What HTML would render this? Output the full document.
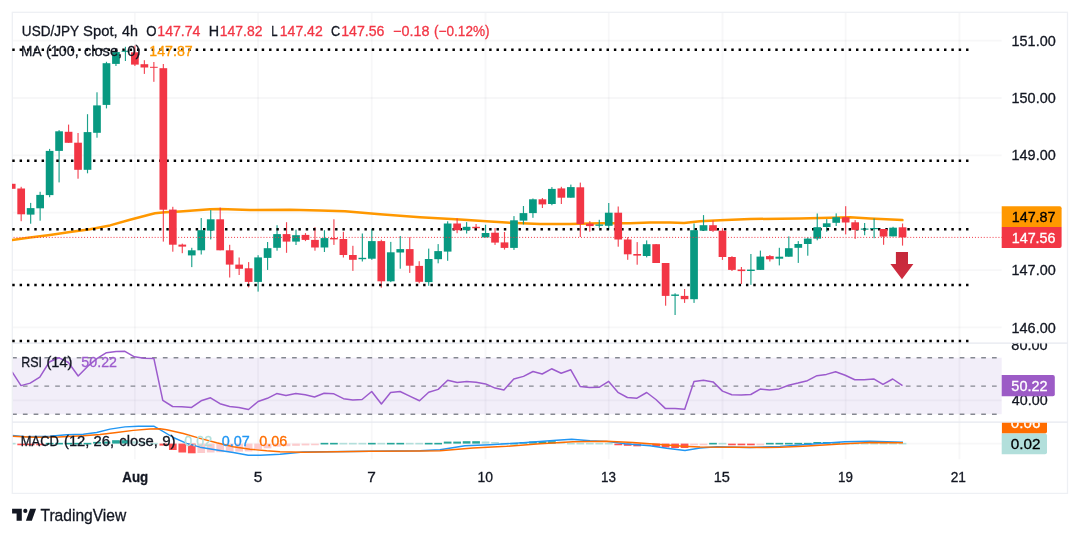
<!DOCTYPE html>
<html lang="en"><head><meta charset="utf-8"><title>USD/JPY Spot, 4h</title>
<style>html,body{margin:0;padding:0;background:#fff;}body{width:1080px;height:537px;overflow:hidden;}svg{display:block;}text{font-family:'Liberation Sans', Arial, sans-serif;}</style>
</head><body>
<svg width="1080" height="537" viewBox="0 0 1080 537">
<rect width="1080" height="537" fill="#ffffff"/>
<defs>
<clipPath id="cm"><rect x="12.0" y="12.3" width="989.4" height="330.8"/></clipPath>
<clipPath id="cr"><rect x="12.7" y="343.1" width="989.4" height="79.1"/></clipPath>
<clipPath id="cd"><rect x="12.7" y="422.2" width="989.4" height="37.1"/></clipPath>
<clipPath id="ca2"><rect x="1001.7" y="343.6" width="65.8" height="79.1"/></clipPath>
<clipPath id="ca3"><rect x="1001.7" y="422.7" width="65.8" height="37.1"/></clipPath>
<linearGradient id="ag" x1="0" y1="0" x2="0" y2="1"><stop offset="0" stop-color="#c5283a"/><stop offset="1" stop-color="#cf2d40"/></linearGradient>
</defs>
<g stroke="#2a2e45" stroke-opacity="0.04" stroke-width="1.8" fill="none">
<line x1="134.9" y1="12.3" x2="134.9" y2="459.3"/>
<line x1="258.1" y1="12.3" x2="258.1" y2="459.3"/>
<line x1="371.8" y1="12.3" x2="371.8" y2="459.3"/>
<line x1="485.5" y1="12.3" x2="485.5" y2="459.3"/>
<line x1="608.8" y1="12.3" x2="608.8" y2="459.3"/>
<line x1="722.5" y1="12.3" x2="722.5" y2="459.3"/>
<line x1="845.7" y1="12.3" x2="845.7" y2="459.3"/>
<line x1="959.4" y1="12.3" x2="959.4" y2="459.3"/>
<line x1="12.3" y1="40.6" x2="1001.7" y2="40.6"/>
<line x1="12.3" y1="98.0" x2="1001.7" y2="98.0"/>
<line x1="12.3" y1="155.3" x2="1001.7" y2="155.3"/>
<line x1="12.3" y1="212.6" x2="1001.7" y2="212.6"/>
<line x1="12.3" y1="270.1" x2="1001.7" y2="270.1"/>
<line x1="12.3" y1="327.4" x2="1001.7" y2="327.4"/>
<line x1="12.3" y1="400.3" x2="1001.7" y2="400.3"/>
<line x1="12.3" y1="443.7" x2="1001.7" y2="443.7"/>
</g>
<rect x="12.3" y="357.7" width="989.4" height="56.5" fill="#7e57c2" fill-opacity="0.1"/>
<g stroke="#858891" stroke-width="1.4" stroke-dasharray="4.7 6.068" fill="none">
<line x1="12.1" y1="357.7" x2="997.0" y2="357.7"/>
<line x1="12.1" y1="386.1" x2="997.0" y2="386.1"/>
<line x1="12.1" y1="414.2" x2="997.0" y2="414.2"/>
</g>
<rect x="12.3" y="12.3" width="1055.2" height="481.1" stroke="#eef0f4" stroke-width="1.3" fill="none"/>
<g stroke="#e6e8ef" stroke-width="1.2" fill="none">
<line x1="12.3" y1="343.1" x2="1067.5" y2="343.1"/>
<line x1="12.3" y1="422.2" x2="1067.5" y2="422.2"/>
</g>
<g clip-path="url(#cm)">
<path d="M12.2 240.1 L30.0 237.6 L50.0 234.9 L70.0 232.1 L90.0 229.2 L110.0 225.4 L130.0 219.8 L150.0 214.5 L155.0 213.3 L165.0 212.2 L180.0 211.4 L210.0 209.3 L220.0 208.9 L250.0 210.1 L290.0 209.8 L320.0 210.5 L345.0 211.2 L380.0 214.2 L420.0 217.3 L460.0 219.6 L490.0 221.6 L510.0 222.8 L540.0 224.0 L570.0 224.0 L600.0 223.3 L630.0 223.3 L650.0 222.5 L670.0 222.4 L684.0 223.0 L700.0 221.3 L720.0 220.2 L750.0 219.0 L800.0 218.5 L820.0 218.1 L850.0 217.3 L870.0 218.5 L902.4 220.1" fill="none" stroke="#ff9800" stroke-width="2.5" stroke-linejoin="round" stroke-linecap="round"/>
<rect x="11.12" y="183.8" width="1.15" height="5.0" fill="#f23645" fill-opacity="0.92"/>
<rect x="20.60" y="186.8" width="1.15" height="34.4" fill="#f23645" fill-opacity="0.92"/>
<rect x="30.08" y="202.9" width="1.15" height="20.8" fill="#089981" fill-opacity="0.92"/>
<rect x="39.55" y="191.8" width="1.15" height="28.9" fill="#089981" fill-opacity="0.92"/>
<rect x="49.03" y="148.9" width="1.15" height="48.3" fill="#089981" fill-opacity="0.92"/>
<rect x="58.51" y="130.1" width="1.15" height="52.3" fill="#089981" fill-opacity="0.92"/>
<rect x="67.99" y="124.6" width="1.15" height="18.2" fill="#f23645" fill-opacity="0.92"/>
<rect x="77.46" y="133.0" width="1.15" height="45.7" fill="#f23645" fill-opacity="0.92"/>
<rect x="86.94" y="114.2" width="1.15" height="59.1" fill="#089981" fill-opacity="0.92"/>
<rect x="96.42" y="92.3" width="1.15" height="45.4" fill="#089981" fill-opacity="0.92"/>
<rect x="105.89" y="61.8" width="1.15" height="46.6" fill="#089981" fill-opacity="0.92"/>
<rect x="115.37" y="50.0" width="1.15" height="16.0" fill="#089981" fill-opacity="0.92"/>
<rect x="124.85" y="46.8" width="1.15" height="14.2" fill="#089981" fill-opacity="0.92"/>
<rect x="134.33" y="45.6" width="1.15" height="20.4" fill="#f23645" fill-opacity="0.92"/>
<rect x="143.80" y="60.2" width="1.15" height="13.7" fill="#f23645" fill-opacity="0.92"/>
<rect x="153.28" y="62.0" width="1.15" height="19.8" fill="#f23645" fill-opacity="0.92"/>
<rect x="162.76" y="64.0" width="1.15" height="177.6" fill="#f23645" fill-opacity="0.92"/>
<rect x="172.23" y="206.8" width="1.15" height="44.9" fill="#f23645" fill-opacity="0.92"/>
<rect x="181.71" y="243.6" width="1.15" height="9.6" fill="#f23645" fill-opacity="0.92"/>
<rect x="191.19" y="247.8" width="1.15" height="19.3" fill="#089981" fill-opacity="0.92"/>
<rect x="200.66" y="218.0" width="1.15" height="36.5" fill="#089981" fill-opacity="0.92"/>
<rect x="210.14" y="210.1" width="1.15" height="29.3" fill="#089981" fill-opacity="0.92"/>
<rect x="219.62" y="207.6" width="1.15" height="42.7" fill="#f23645" fill-opacity="0.92"/>
<rect x="229.10" y="244.8" width="1.15" height="32.7" fill="#f23645" fill-opacity="0.92"/>
<rect x="238.57" y="257.5" width="1.15" height="17.5" fill="#f23645" fill-opacity="0.92"/>
<rect x="248.05" y="262.1" width="1.15" height="25.3" fill="#f23645" fill-opacity="0.92"/>
<rect x="257.53" y="255.2" width="1.15" height="36.4" fill="#089981" fill-opacity="0.92"/>
<rect x="267.00" y="242.0" width="1.15" height="27.9" fill="#089981" fill-opacity="0.92"/>
<rect x="276.48" y="225.2" width="1.15" height="25.5" fill="#089981" fill-opacity="0.92"/>
<rect x="285.96" y="222.2" width="1.15" height="30.6" fill="#f23645" fill-opacity="0.92"/>
<rect x="295.43" y="229.7" width="1.15" height="15.3" fill="#089981" fill-opacity="0.92"/>
<rect x="304.91" y="233.1" width="1.15" height="8.0" fill="#f23645" fill-opacity="0.92"/>
<rect x="314.39" y="227.2" width="1.15" height="23.5" fill="#f23645" fill-opacity="0.92"/>
<rect x="323.87" y="230.2" width="1.15" height="21.8" fill="#089981" fill-opacity="0.92"/>
<rect x="333.34" y="219.3" width="1.15" height="25.6" fill="#f23645" fill-opacity="0.92"/>
<rect x="342.82" y="231.8" width="1.15" height="25.7" fill="#f23645" fill-opacity="0.92"/>
<rect x="352.30" y="245.8" width="1.15" height="25.1" fill="#f23645" fill-opacity="0.92"/>
<rect x="361.77" y="233.5" width="1.15" height="28.0" fill="#089981" fill-opacity="0.92"/>
<rect x="371.25" y="229.0" width="1.15" height="30.8" fill="#089981" fill-opacity="0.92"/>
<rect x="380.73" y="239.7" width="1.15" height="47.9" fill="#f23645" fill-opacity="0.92"/>
<rect x="390.20" y="241.9" width="1.15" height="40.2" fill="#089981" fill-opacity="0.92"/>
<rect x="399.68" y="236.0" width="1.15" height="32.7" fill="#089981" fill-opacity="0.92"/>
<rect x="409.16" y="237.2" width="1.15" height="35.7" fill="#f23645" fill-opacity="0.92"/>
<rect x="418.64" y="261.2" width="1.15" height="22.1" fill="#f23645" fill-opacity="0.92"/>
<rect x="428.11" y="248.6" width="1.15" height="37.2" fill="#089981" fill-opacity="0.92"/>
<rect x="437.59" y="244.1" width="1.15" height="19.2" fill="#089981" fill-opacity="0.92"/>
<rect x="447.07" y="221.3" width="1.15" height="39.5" fill="#089981" fill-opacity="0.92"/>
<rect x="456.54" y="218.4" width="1.15" height="14.8" fill="#f23645" fill-opacity="0.92"/>
<rect x="466.02" y="222.1" width="1.15" height="11.4" fill="#089981" fill-opacity="0.92"/>
<rect x="475.50" y="224.0" width="1.15" height="6.2" fill="#f23645" fill-opacity="0.92"/>
<rect x="484.97" y="224.8" width="1.15" height="12.6" fill="#089981" fill-opacity="0.92"/>
<rect x="494.45" y="228.0" width="1.15" height="16.9" fill="#f23645" fill-opacity="0.92"/>
<rect x="503.93" y="232.0" width="1.15" height="17.6" fill="#f23645" fill-opacity="0.92"/>
<rect x="513.40" y="216.1" width="1.15" height="33.8" fill="#089981" fill-opacity="0.92"/>
<rect x="522.88" y="206.0" width="1.15" height="18.5" fill="#089981" fill-opacity="0.92"/>
<rect x="532.36" y="198.5" width="1.15" height="19.3" fill="#089981" fill-opacity="0.92"/>
<rect x="541.84" y="198.0" width="1.15" height="10.0" fill="#f23645" fill-opacity="0.92"/>
<rect x="551.31" y="187.1" width="1.15" height="18.1" fill="#089981" fill-opacity="0.92"/>
<rect x="560.79" y="186.8" width="1.15" height="17.2" fill="#f23645" fill-opacity="0.92"/>
<rect x="570.27" y="184.6" width="1.15" height="13.1" fill="#089981" fill-opacity="0.92"/>
<rect x="579.74" y="182.6" width="1.15" height="54.4" fill="#f23645" fill-opacity="0.92"/>
<rect x="589.22" y="221.1" width="1.15" height="10.6" fill="#f23645" fill-opacity="0.92"/>
<rect x="598.70" y="219.8" width="1.15" height="8.0" fill="#089981" fill-opacity="0.92"/>
<rect x="608.17" y="203.0" width="1.15" height="26.8" fill="#089981" fill-opacity="0.92"/>
<rect x="617.65" y="206.5" width="1.15" height="40.2" fill="#f23645" fill-opacity="0.92"/>
<rect x="627.13" y="237.2" width="1.15" height="22.6" fill="#f23645" fill-opacity="0.92"/>
<rect x="636.61" y="242.1" width="1.15" height="22.6" fill="#f23645" fill-opacity="0.92"/>
<rect x="646.08" y="240.4" width="1.15" height="17.0" fill="#089981" fill-opacity="0.92"/>
<rect x="655.56" y="244.0" width="1.15" height="19.0" fill="#f23645" fill-opacity="0.92"/>
<rect x="665.04" y="263.0" width="1.15" height="42.7" fill="#f23645" fill-opacity="0.92"/>
<rect x="674.51" y="293.3" width="1.15" height="21.7" fill="#089981" fill-opacity="0.92"/>
<rect x="683.99" y="289.0" width="1.15" height="13.9" fill="#f23645" fill-opacity="0.92"/>
<rect x="693.47" y="223.5" width="1.15" height="79.4" fill="#089981" fill-opacity="0.92"/>
<rect x="702.94" y="215.1" width="1.15" height="15.6" fill="#089981" fill-opacity="0.92"/>
<rect x="712.42" y="220.5" width="1.15" height="11.4" fill="#f23645" fill-opacity="0.92"/>
<rect x="721.90" y="228.2" width="1.15" height="31.7" fill="#f23645" fill-opacity="0.92"/>
<rect x="731.38" y="256.2" width="1.15" height="14.8" fill="#f23645" fill-opacity="0.92"/>
<rect x="740.85" y="267.0" width="1.15" height="17.0" fill="#f23645" fill-opacity="0.92"/>
<rect x="750.33" y="254.0" width="1.15" height="30.8" fill="#089981" fill-opacity="0.92"/>
<rect x="759.81" y="250.6" width="1.15" height="19.3" fill="#089981" fill-opacity="0.92"/>
<rect x="769.28" y="255.0" width="1.15" height="6.5" fill="#f23645" fill-opacity="0.92"/>
<rect x="778.76" y="247.8" width="1.15" height="17.6" fill="#089981" fill-opacity="0.92"/>
<rect x="788.24" y="236.4" width="1.15" height="20.3" fill="#089981" fill-opacity="0.92"/>
<rect x="797.71" y="241.1" width="1.15" height="21.8" fill="#089981" fill-opacity="0.92"/>
<rect x="807.19" y="237.3" width="1.15" height="18.4" fill="#089981" fill-opacity="0.92"/>
<rect x="816.67" y="213.5" width="1.15" height="26.8" fill="#089981" fill-opacity="0.92"/>
<rect x="826.15" y="219.1" width="1.15" height="12.6" fill="#089981" fill-opacity="0.92"/>
<rect x="835.62" y="213.4" width="1.15" height="12.6" fill="#089981" fill-opacity="0.92"/>
<rect x="845.10" y="206.2" width="1.15" height="28.2" fill="#f23645" fill-opacity="0.92"/>
<rect x="854.58" y="220.1" width="1.15" height="18.8" fill="#f23645" fill-opacity="0.92"/>
<rect x="864.05" y="223.0" width="1.15" height="12.2" fill="#089981" fill-opacity="0.92"/>
<rect x="873.53" y="218.5" width="1.15" height="19.7" fill="#089981" fill-opacity="0.92"/>
<rect x="883.01" y="229.0" width="1.15" height="15.8" fill="#f23645" fill-opacity="0.92"/>
<rect x="892.49" y="226.8" width="1.15" height="9.6" fill="#089981" fill-opacity="0.92"/>
<rect x="901.96" y="223.5" width="1.15" height="22.1" fill="#f23645" fill-opacity="0.92"/>
<g stroke="#000" stroke-width="2.5" stroke-dasharray="2.44 4.8967" fill="none">
<line x1="12.27" y1="49.7" x2="969.5" y2="49.7"/>
<line x1="12.27" y1="160.7" x2="969.5" y2="160.7"/>
<line x1="12.27" y1="229.3" x2="969.5" y2="229.3"/>
<line x1="12.27" y1="285.0" x2="969.5" y2="285.0"/>
<line x1="12.27" y1="340.9" x2="969.5" y2="340.9"/>
</g>
<rect x="7.85" y="183.8" width="7.70" height="5.0" fill="#f23645"/>
<rect x="17.33" y="188.5" width="7.70" height="25.8" fill="#f23645"/>
<rect x="26.80" y="208.1" width="7.70" height="6.5" fill="#089981"/>
<rect x="36.28" y="194.9" width="7.70" height="13.4" fill="#089981"/>
<rect x="45.76" y="150.9" width="7.70" height="44.2" fill="#089981"/>
<rect x="55.23" y="131.3" width="7.70" height="19.6" fill="#089981"/>
<rect x="64.71" y="131.8" width="7.70" height="11.0" fill="#f23645"/>
<rect x="74.19" y="142.7" width="7.70" height="27.1" fill="#f23645"/>
<rect x="83.67" y="132.1" width="7.70" height="37.7" fill="#089981"/>
<rect x="93.14" y="105.4" width="7.70" height="27.4" fill="#089981"/>
<rect x="102.62" y="63.2" width="7.70" height="41.7" fill="#089981"/>
<rect x="112.10" y="52.1" width="7.70" height="11.8" fill="#089981"/>
<rect x="121.57" y="50.8" width="7.70" height="1.0" fill="#089981"/>
<rect x="131.05" y="52.3" width="7.70" height="12.3" fill="#f23645"/>
<rect x="140.53" y="64.2" width="7.70" height="3.3" fill="#f23645"/>
<rect x="150.00" y="66.8" width="7.70" height="1.0" fill="#f23645"/>
<rect x="159.48" y="68.2" width="7.70" height="141.5" fill="#f23645"/>
<rect x="168.96" y="209.6" width="7.70" height="35.1" fill="#f23645"/>
<rect x="178.44" y="244.6" width="7.70" height="2.0" fill="#f23645"/>
<rect x="187.91" y="250.3" width="7.70" height="5.1" fill="#089981"/>
<rect x="197.39" y="230.2" width="7.70" height="20.1" fill="#089981"/>
<rect x="206.87" y="219.3" width="7.70" height="11.3" fill="#089981"/>
<rect x="216.34" y="219.3" width="7.70" height="31.0" fill="#f23645"/>
<rect x="225.82" y="250.3" width="7.70" height="14.3" fill="#f23645"/>
<rect x="235.30" y="264.6" width="7.70" height="4.2" fill="#f23645"/>
<rect x="244.77" y="268.3" width="7.70" height="13.6" fill="#f23645"/>
<rect x="254.25" y="257.4" width="7.70" height="24.5" fill="#089981"/>
<rect x="263.73" y="248.2" width="7.70" height="9.7" fill="#089981"/>
<rect x="273.20" y="234.1" width="7.70" height="13.7" fill="#089981"/>
<rect x="282.68" y="234.1" width="7.70" height="7.5" fill="#f23645"/>
<rect x="292.16" y="235.2" width="7.70" height="6.4" fill="#089981"/>
<rect x="301.64" y="234.9" width="7.70" height="5.0" fill="#f23645"/>
<rect x="311.11" y="239.9" width="7.70" height="7.6" fill="#f23645"/>
<rect x="320.59" y="238.1" width="7.70" height="9.4" fill="#089981"/>
<rect x="330.07" y="238.0" width="7.70" height="1.4" fill="#f23645"/>
<rect x="339.54" y="239.0" width="7.70" height="16.0" fill="#f23645"/>
<rect x="349.02" y="255.0" width="7.70" height="4.8" fill="#f23645"/>
<rect x="358.50" y="257.8" width="7.70" height="1.4" fill="#089981"/>
<rect x="367.98" y="241.1" width="7.70" height="17.6" fill="#089981"/>
<rect x="377.45" y="241.1" width="7.70" height="40.2" fill="#f23645"/>
<rect x="386.93" y="252.3" width="7.70" height="29.0" fill="#089981"/>
<rect x="396.41" y="249.1" width="7.70" height="3.4" fill="#089981"/>
<rect x="405.88" y="249.1" width="7.70" height="16.6" fill="#f23645"/>
<rect x="415.36" y="265.9" width="7.70" height="15.9" fill="#f23645"/>
<rect x="424.84" y="259.0" width="7.70" height="23.1" fill="#089981"/>
<rect x="434.31" y="251.1" width="7.70" height="8.1" fill="#089981"/>
<rect x="443.79" y="223.5" width="7.70" height="28.1" fill="#089981"/>
<rect x="453.27" y="223.5" width="7.70" height="6.7" fill="#f23645"/>
<rect x="462.75" y="226.8" width="7.70" height="3.4" fill="#089981"/>
<rect x="472.22" y="226.8" width="7.70" height="1.4" fill="#f23645"/>
<rect x="481.70" y="233.0" width="7.70" height="4.4" fill="#089981"/>
<rect x="491.18" y="232.7" width="7.70" height="9.9" fill="#f23645"/>
<rect x="500.65" y="242.4" width="7.70" height="5.5" fill="#f23645"/>
<rect x="510.13" y="220.3" width="7.70" height="27.6" fill="#089981"/>
<rect x="519.61" y="213.1" width="7.70" height="7.5" fill="#089981"/>
<rect x="529.08" y="199.3" width="7.70" height="13.8" fill="#089981"/>
<rect x="538.56" y="199.3" width="7.70" height="5.1" fill="#f23645"/>
<rect x="548.04" y="188.9" width="7.70" height="15.1" fill="#089981"/>
<rect x="557.51" y="188.4" width="7.70" height="9.3" fill="#f23645"/>
<rect x="566.99" y="187.1" width="7.70" height="10.6" fill="#089981"/>
<rect x="576.47" y="187.3" width="7.70" height="36.8" fill="#f23645"/>
<rect x="585.95" y="223.6" width="7.70" height="2.5" fill="#f23645"/>
<rect x="595.42" y="224.5" width="7.70" height="1.3" fill="#089981"/>
<rect x="604.90" y="212.7" width="7.70" height="13.1" fill="#089981"/>
<rect x="614.38" y="212.7" width="7.70" height="26.8" fill="#f23645"/>
<rect x="623.85" y="239.5" width="7.70" height="14.8" fill="#f23645"/>
<rect x="633.33" y="254.0" width="7.70" height="1.6" fill="#f23645"/>
<rect x="642.81" y="244.2" width="7.70" height="11.8" fill="#089981"/>
<rect x="652.28" y="244.2" width="7.70" height="18.8" fill="#f23645"/>
<rect x="661.76" y="263.0" width="7.70" height="32.9" fill="#f23645"/>
<rect x="671.24" y="294.5" width="7.70" height="1.4" fill="#089981"/>
<rect x="680.72" y="295.9" width="7.70" height="3.3" fill="#f23645"/>
<rect x="690.19" y="230.2" width="7.70" height="69.0" fill="#089981"/>
<rect x="699.67" y="225.2" width="7.70" height="5.5" fill="#089981"/>
<rect x="709.15" y="225.2" width="7.70" height="5.5" fill="#f23645"/>
<rect x="718.62" y="230.7" width="7.70" height="26.3" fill="#f23645"/>
<rect x="728.10" y="257.0" width="7.70" height="12.9" fill="#f23645"/>
<rect x="737.58" y="269.5" width="7.70" height="1.6" fill="#f23645"/>
<rect x="747.05" y="269.6" width="7.70" height="1.4" fill="#089981"/>
<rect x="756.53" y="256.6" width="7.70" height="13.3" fill="#089981"/>
<rect x="766.01" y="256.1" width="7.70" height="3.2" fill="#f23645"/>
<rect x="775.49" y="256.7" width="7.70" height="2.0" fill="#089981"/>
<rect x="784.96" y="248.2" width="7.70" height="8.5" fill="#089981"/>
<rect x="794.44" y="244.0" width="7.70" height="3.8" fill="#089981"/>
<rect x="803.92" y="238.6" width="7.70" height="5.4" fill="#089981"/>
<rect x="813.39" y="227.2" width="7.70" height="11.4" fill="#089981"/>
<rect x="822.87" y="223.3" width="7.70" height="3.7" fill="#089981"/>
<rect x="832.35" y="217.2" width="7.70" height="5.6" fill="#089981"/>
<rect x="841.82" y="217.2" width="7.70" height="5.3" fill="#f23645"/>
<rect x="851.30" y="222.3" width="7.70" height="7.6" fill="#f23645"/>
<rect x="860.78" y="228.5" width="7.70" height="1.2" fill="#089981"/>
<rect x="870.26" y="228.0" width="7.70" height="1.2" fill="#089981"/>
<rect x="879.73" y="229.0" width="7.70" height="7.6" fill="#f23645"/>
<rect x="889.21" y="227.7" width="7.70" height="8.7" fill="#089981"/>
<rect x="898.69" y="227.3" width="7.70" height="10.1" fill="#f23645"/>
</g>
<line x1="1002.38" y1="237.4" x2="12.3" y2="237.4" stroke="#f23645" stroke-width="1" stroke-dasharray="0.98 1.96"/>
<path d="M895.9 252 L908 252 L908 264 L913.4 264 L902 279.2 L890.4 264 L895.9 264 Z" fill="url(#ag)"/>
<g clip-path="url(#cr)">
<path d="M12.1 371.8 L21.0 385.6 L30.2 383.1 L39.8 377.1 L49.3 362.0 L58.7 357.7 L68.4 362.5 L78.2 376.0 L87.6 366.4 L97.2 358.4 L106.5 352.7 L116.1 351.4 L124.9 351.3 L134.4 356.8 L144.1 358.2 L153.9 358.6 L162.8 400.3 L172.6 406.5 L181.8 406.7 L191.6 407.4 L201.1 400.8 L210.5 397.8 L220.0 403.7 L229.6 406.5 L238.9 407.5 L248.5 409.5 L258.1 401.5 L267.4 398.3 L276.7 393.6 L286.0 395.6 L295.8 393.6 L305.2 394.8 L314.5 397.0 L324.1 393.3 L333.9 393.8 L343.5 398.7 L352.8 400.0 L362.1 399.5 L371.7 391.5 L381.4 404.0 L390.6 392.5 L400.1 391.5 L409.7 396.1 L419.5 400.8 L428.7 392.3 L438.2 389.4 L447.7 380.2 L457.2 382.4 L466.7 381.4 L476.1 382.2 L485.6 383.9 L495.1 388.1 L503.9 389.9 L513.8 379.0 L523.5 376.4 L533.0 371.5 L542.2 374.0 L551.6 368.8 L561.2 373.2 L570.8 369.8 L580.1 386.4 L589.6 387.4 L599.0 387.3 L608.7 381.4 L617.9 392.3 L627.4 397.5 L637.0 398.2 L646.7 392.5 L655.9 399.5 L665.5 408.6 L675.1 408.4 L684.7 409.2 L694.0 381.4 L703.5 380.2 L713.1 381.9 L722.5 391.1 L731.8 394.8 L741.3 395.0 L750.8 394.5 L760.2 389.1 L769.6 389.9 L779.1 388.9 L788.6 385.2 L798.0 383.1 L807.4 380.7 L817.0 375.7 L826.4 374.4 L835.6 371.8 L845.2 375.2 L854.8 379.7 L864.1 379.7 L873.7 378.9 L883.0 384.4 L892.7 379.0 L902.5 385.6" fill="none" stroke="#9c5bcd" stroke-width="1.5" stroke-linejoin="round"/>
</g>
<g clip-path="url(#cd)">
<rect x="7.85" y="442.85" width="7.70" height="1.60" fill="#b2dfdb"/>
<rect x="17.33" y="443.65" width="7.70" height="1.60" fill="#ff5252"/>
<rect x="26.80" y="443.65" width="7.70" height="1.60" fill="#ff5252"/>
<rect x="36.28" y="443.65" width="7.70" height="1.60" fill="#ff5252"/>
<rect x="45.76" y="442.85" width="7.70" height="1.60" fill="#26a69a"/>
<rect x="55.23" y="442.85" width="7.70" height="1.60" fill="#26a69a"/>
<rect x="64.71" y="442.85" width="7.70" height="1.60" fill="#26a69a"/>
<rect x="74.19" y="442.85" width="7.70" height="1.60" fill="#26a69a"/>
<rect x="83.67" y="442.85" width="7.70" height="1.60" fill="#26a69a"/>
<rect x="93.14" y="441.90" width="7.70" height="1.70" fill="#26a69a"/>
<rect x="102.62" y="441.60" width="7.70" height="2.00" fill="#26a69a"/>
<rect x="112.10" y="440.20" width="7.70" height="3.40" fill="#26a69a"/>
<rect x="121.57" y="440.20" width="7.70" height="3.40" fill="#26a69a"/>
<rect x="131.05" y="441.30" width="7.70" height="2.30" fill="#b2dfdb"/>
<rect x="140.53" y="441.70" width="7.70" height="1.90" fill="#b2dfdb"/>
<rect x="150.00" y="442.85" width="7.70" height="1.60" fill="#b2dfdb"/>
<rect x="159.48" y="443.60" width="7.70" height="2.00" fill="#ff5252"/>
<rect x="168.96" y="443.60" width="7.70" height="6.40" fill="#ff5252"/>
<rect x="178.44" y="443.60" width="7.70" height="8.90" fill="#ff5252"/>
<rect x="187.91" y="443.60" width="7.70" height="9.70" fill="#ff5252"/>
<rect x="197.39" y="443.60" width="7.70" height="9.40" fill="#fccbcd"/>
<rect x="206.87" y="443.60" width="7.70" height="8.90" fill="#fccbcd"/>
<rect x="216.34" y="443.60" width="7.70" height="8.60" fill="#fccbcd"/>
<rect x="225.82" y="443.60" width="7.70" height="8.10" fill="#fccbcd"/>
<rect x="235.30" y="443.60" width="7.70" height="8.00" fill="#fccbcd"/>
<rect x="244.77" y="443.60" width="7.70" height="7.80" fill="#fccbcd"/>
<rect x="254.25" y="443.60" width="7.70" height="5.60" fill="#fccbcd"/>
<rect x="263.73" y="443.60" width="7.70" height="4.70" fill="#fccbcd"/>
<rect x="273.20" y="443.60" width="7.70" height="3.10" fill="#fccbcd"/>
<rect x="282.68" y="443.60" width="7.70" height="2.60" fill="#fccbcd"/>
<rect x="292.16" y="443.60" width="7.70" height="2.20" fill="#fccbcd"/>
<rect x="301.64" y="443.60" width="7.70" height="1.80" fill="#fccbcd"/>
<rect x="311.11" y="443.65" width="7.70" height="1.60" fill="#fccbcd"/>
<rect x="320.59" y="442.85" width="7.70" height="1.60" fill="#26a69a"/>
<rect x="330.07" y="442.85" width="7.70" height="1.60" fill="#26a69a"/>
<rect x="339.54" y="442.85" width="7.70" height="1.60" fill="#b2dfdb"/>
<rect x="349.02" y="442.85" width="7.70" height="1.60" fill="#b2dfdb"/>
<rect x="358.50" y="442.85" width="7.70" height="1.60" fill="#b2dfdb"/>
<rect x="367.98" y="442.85" width="7.70" height="1.60" fill="#26a69a"/>
<rect x="377.45" y="442.85" width="7.70" height="1.60" fill="#b2dfdb"/>
<rect x="386.93" y="442.85" width="7.70" height="1.60" fill="#26a69a"/>
<rect x="396.41" y="442.85" width="7.70" height="1.60" fill="#26a69a"/>
<rect x="405.88" y="442.85" width="7.70" height="1.60" fill="#b2dfdb"/>
<rect x="415.36" y="442.85" width="7.70" height="1.60" fill="#b2dfdb"/>
<rect x="424.84" y="442.85" width="7.70" height="1.60" fill="#26a69a"/>
<rect x="434.31" y="442.85" width="7.70" height="1.60" fill="#26a69a"/>
<rect x="443.79" y="441.60" width="7.70" height="2.00" fill="#26a69a"/>
<rect x="453.27" y="441.60" width="7.70" height="2.00" fill="#26a69a"/>
<rect x="462.75" y="441.20" width="7.70" height="2.40" fill="#26a69a"/>
<rect x="472.22" y="441.20" width="7.70" height="2.40" fill="#26a69a"/>
<rect x="481.70" y="441.50" width="7.70" height="2.10" fill="#b2dfdb"/>
<rect x="491.18" y="442.00" width="7.70" height="1.60" fill="#b2dfdb"/>
<rect x="500.65" y="442.85" width="7.70" height="1.60" fill="#b2dfdb"/>
<rect x="510.13" y="442.85" width="7.70" height="1.60" fill="#26a69a"/>
<rect x="519.61" y="442.00" width="7.70" height="1.60" fill="#26a69a"/>
<rect x="529.08" y="441.50" width="7.70" height="2.10" fill="#26a69a"/>
<rect x="538.56" y="441.50" width="7.70" height="2.10" fill="#26a69a"/>
<rect x="548.04" y="441.20" width="7.70" height="2.40" fill="#26a69a"/>
<rect x="557.51" y="441.80" width="7.70" height="1.80" fill="#b2dfdb"/>
<rect x="566.99" y="442.85" width="7.70" height="1.60" fill="#b2dfdb"/>
<rect x="576.47" y="442.85" width="7.70" height="1.60" fill="#b2dfdb"/>
<rect x="585.95" y="442.85" width="7.70" height="1.60" fill="#b2dfdb"/>
<rect x="595.42" y="442.85" width="7.70" height="1.60" fill="#b2dfdb"/>
<rect x="604.90" y="442.85" width="7.70" height="1.60" fill="#b2dfdb"/>
<rect x="614.38" y="443.65" width="7.70" height="1.60" fill="#ff5252"/>
<rect x="623.85" y="443.60" width="7.70" height="2.20" fill="#ff5252"/>
<rect x="633.33" y="443.60" width="7.70" height="2.70" fill="#ff5252"/>
<rect x="642.81" y="443.60" width="7.70" height="1.90" fill="#fccbcd"/>
<rect x="652.28" y="443.60" width="7.70" height="2.90" fill="#ff5252"/>
<rect x="661.76" y="443.60" width="7.70" height="3.90" fill="#ff5252"/>
<rect x="671.24" y="443.60" width="7.70" height="4.40" fill="#ff5252"/>
<rect x="680.72" y="443.60" width="7.70" height="4.40" fill="#ff5252"/>
<rect x="690.19" y="443.60" width="7.70" height="1.70" fill="#fccbcd"/>
<rect x="699.67" y="443.65" width="7.70" height="1.60" fill="#fccbcd"/>
<rect x="709.15" y="442.85" width="7.70" height="1.60" fill="#26a69a"/>
<rect x="718.62" y="442.85" width="7.70" height="1.60" fill="#b2dfdb"/>
<rect x="728.10" y="443.65" width="7.70" height="1.60" fill="#ff5252"/>
<rect x="737.58" y="443.65" width="7.70" height="1.60" fill="#ff5252"/>
<rect x="747.05" y="443.65" width="7.70" height="1.60" fill="#ff5252"/>
<rect x="756.53" y="443.65" width="7.70" height="1.60" fill="#fccbcd"/>
<rect x="766.01" y="442.85" width="7.70" height="1.60" fill="#26a69a"/>
<rect x="775.49" y="442.85" width="7.70" height="1.60" fill="#26a69a"/>
<rect x="784.96" y="442.85" width="7.70" height="1.60" fill="#26a69a"/>
<rect x="794.44" y="442.85" width="7.70" height="1.60" fill="#26a69a"/>
<rect x="803.92" y="442.85" width="7.70" height="1.60" fill="#26a69a"/>
<rect x="813.39" y="442.00" width="7.70" height="1.60" fill="#26a69a"/>
<rect x="822.87" y="442.00" width="7.70" height="1.60" fill="#26a69a"/>
<rect x="832.35" y="442.00" width="7.70" height="1.60" fill="#26a69a"/>
<rect x="841.82" y="442.85" width="7.70" height="1.60" fill="#b2dfdb"/>
<rect x="851.30" y="442.85" width="7.70" height="1.60" fill="#b2dfdb"/>
<rect x="860.78" y="442.85" width="7.70" height="1.60" fill="#b2dfdb"/>
<rect x="870.26" y="442.85" width="7.70" height="1.60" fill="#b2dfdb"/>
<rect x="879.73" y="442.85" width="7.70" height="1.60" fill="#b2dfdb"/>
<rect x="889.21" y="442.85" width="7.70" height="1.60" fill="#b2dfdb"/>
<rect x="898.69" y="442.85" width="7.70" height="1.60" fill="#b2dfdb"/>
<path d="M12.5 435.5 L25.0 436.7 L50.0 436.2 L66.7 434.7 L83.3 434.2 L96.7 432.5 L110.0 429.1 L125.0 426.9 L138.3 426.3 L154.2 426.3 L160.0 429.6 L173.3 437.5 L186.7 443.3 L200.0 447.2 L216.7 450.0 L233.3 452.5 L248.3 455.3 L260.0 455.3 L280.0 454.3 L303.0 452.0 L370.0 451.2 L420.0 450.8 L440.0 449.7 L465.0 445.8 L490.0 444.7 L523.0 442.8 L556.7 440.3 L571.7 439.2 L590.0 440.8 L606.7 441.4 L625.0 443.8 L650.0 445.8 L666.7 448.3 L685.0 450.5 L700.0 448.0 L716.7 446.7 L750.0 447.5 L780.0 446.4 L803.0 444.7 L845.0 441.7 L870.0 441.3 L903.0 442.2" fill="none" stroke="#2196f3" stroke-width="1.4" stroke-linejoin="round"/>
<path d="M12.5 436.3 L33.3 437.2 L58.3 437.0 L83.3 435.8 L100.0 434.5 L116.7 432.5 L133.3 430.4 L150.0 429.0 L160.0 428.8 L166.7 429.8 L183.3 433.5 L200.0 438.3 L216.7 442.8 L233.3 446.7 L250.0 449.2 L266.7 450.8 L280.0 451.7 L303.0 452.2 L370.0 451.3 L420.0 451.0 L440.0 450.8 L473.0 448.0 L506.7 446.3 L540.0 443.8 L573.0 441.7 L606.7 441.3 L633.0 442.5 L666.7 445.0 L683.0 446.3 L700.0 447.0 L733.0 447.2 L766.7 447.5 L780.0 447.3 L803.0 446.2 L845.0 443.7 L870.0 442.5 L903.0 442.7" fill="none" stroke="#ff6d00" stroke-width="1.4" stroke-linejoin="round"/>
</g>
<text x="1011.59" y="45.7" font-size="14.3" fill="#131722" stroke="#131722" stroke-width="0.3" textLength="44.10" lengthAdjust="spacingAndGlyphs">151.00</text>
<text x="1011.59" y="103.1" font-size="14.3" fill="#131722" stroke="#131722" stroke-width="0.3" textLength="44.10" lengthAdjust="spacingAndGlyphs">150.00</text>
<text x="1011.59" y="160.4" font-size="14.3" fill="#131722" stroke="#131722" stroke-width="0.3" textLength="44.10" lengthAdjust="spacingAndGlyphs">149.00</text>
<text x="1011.59" y="217.7" font-size="14.3" fill="#131722" stroke="#131722" stroke-width="0.3" textLength="44.10" lengthAdjust="spacingAndGlyphs">148.00</text>
<text x="1011.59" y="275.2" font-size="14.3" fill="#131722" stroke="#131722" stroke-width="0.3" textLength="44.10" lengthAdjust="spacingAndGlyphs">147.00</text>
<text x="1011.59" y="332.5" font-size="14.3" fill="#131722" stroke="#131722" stroke-width="0.3" textLength="44.10" lengthAdjust="spacingAndGlyphs">146.00</text>
<text x="1011.34" y="349.7" font-size="14.3" fill="#131722" stroke="#131722" stroke-width="0.3" clip-path="url(#ca2)" textLength="36.30" lengthAdjust="spacingAndGlyphs">80.00</text>
<text x="1011.85" y="405.4" font-size="14.3" fill="#131722" stroke="#131722" stroke-width="0.3" clip-path="url(#ca2)" textLength="35.78" lengthAdjust="spacingAndGlyphs">40.00</text>
<path d="M1001.7 206.2 H1059.6 a2 2 0 0 1 2 2 V226.9 H1001.7 Z" fill="#ff9800"/>
<path d="M1001.7 226.9 H1061.6 V245.9 a2 2 0 0 1 -2 2 H1001.7 Z" fill="#f23645"/>
<path d="M1001.7 375 H1052.8 a2 2 0 0 1 2 2 V394.3 a2 2 0 0 1 -2 2 H1001.7 Z" fill="#9c5bc6"/>
<g clip-path="url(#ca3)">
<path d="M1001.7 412 H1045 a2 2 0 0 1 2 2 V431.4 a2 2 0 0 1 -2 2 H1001.7 Z" fill="#ff6d00"/>
</g>
<path d="M1001.7 433.4 H1045 a2 2 0 0 1 2 2 V452.3 a2 2 0 0 1 -2 2 H1001.7 Z" fill="#b2dfdb"/>
<text x="1011.70" y="222.2" font-size="14.3" fill="#000000" stroke="#000000" stroke-width="0.3" textLength="43.84" lengthAdjust="spacingAndGlyphs">147.87</text>
<text x="1011.70" y="242.9" font-size="14.3" fill="#ffffff" stroke="#ffffff" stroke-width="0.3" textLength="43.84" lengthAdjust="spacingAndGlyphs">147.56</text>
<text x="1011.34" y="390.6" font-size="14.3" fill="#ffffff" stroke="#ffffff" stroke-width="0.3" textLength="36.25" lengthAdjust="spacingAndGlyphs">50.22</text>
<text x="1010.87" y="428.2" font-size="14.3" fill="#ffffff" stroke="#ffffff" stroke-width="0.3" clip-path="url(#ca3)" textLength="29.44" lengthAdjust="spacingAndGlyphs">0.06</text>
<text x="1010.87" y="449.0" font-size="14.3" fill="#000000" stroke="#000000" stroke-width="0.3" textLength="29.72" lengthAdjust="spacingAndGlyphs">0.02</text>
<text y="35.7" font-size="14.3" fill="#131722" stroke="#131722" stroke-width="0.3"><tspan x="21.86" textLength="56.91" lengthAdjust="spacingAndGlyphs">USD/JPY</tspan> <tspan x="83.02" textLength="34.62" lengthAdjust="spacingAndGlyphs">Spot,</tspan> <tspan x="122.05" textLength="15.96" lengthAdjust="spacingAndGlyphs">4h</tspan></text>
<text x="146.31" y="35.7" font-size="14.3" fill="#131722" stroke="#131722" stroke-width="0.3" textLength="10.27" lengthAdjust="spacingAndGlyphs">O</text>
<text x="157.31" y="35.7" font-size="14.3" fill="#f23645" stroke="#f23645" stroke-width="0.3" textLength="43.17" lengthAdjust="spacingAndGlyphs">147.74</text>
<text x="208.75" y="35.7" font-size="14.3" fill="#131722" stroke="#131722" stroke-width="0.3" textLength="10.33" lengthAdjust="spacingAndGlyphs">H</text>
<text x="219.83" y="35.7" font-size="14.3" fill="#f23645" stroke="#f23645" stroke-width="0.3" textLength="42.59" lengthAdjust="spacingAndGlyphs">147.82</text>
<text x="271.20" y="35.7" font-size="14.3" fill="#131722" stroke="#131722" stroke-width="0.3" textLength="6.36" lengthAdjust="spacingAndGlyphs">L</text>
<text x="279.82" y="35.7" font-size="14.3" fill="#f23645" stroke="#f23645" stroke-width="0.3" textLength="42.90" lengthAdjust="spacingAndGlyphs">147.42</text>
<text x="331.03" y="35.7" font-size="14.3" fill="#131722" stroke="#131722" stroke-width="0.3" textLength="9.18" lengthAdjust="spacingAndGlyphs">C</text>
<text x="341.21" y="35.7" font-size="14.3" fill="#f23645" stroke="#f23645" stroke-width="0.3" textLength="43.21" lengthAdjust="spacingAndGlyphs">147.56</text>
<text x="393.05" y="35.7" font-size="14.3" fill="#f23645" stroke="#f23645" stroke-width="0.3" textLength="36.34" lengthAdjust="spacingAndGlyphs">−0.18</text>
<text x="434.05" y="35.7" font-size="14.3" fill="#f23645" stroke="#f23645" stroke-width="0.3" textLength="55.53" lengthAdjust="spacingAndGlyphs">(−0.12%)</text>
<text y="56.3" font-size="14.3" fill="#131722" stroke="#131722" stroke-width="0.3"><tspan x="21.05" textLength="19.71" lengthAdjust="spacingAndGlyphs">MA</tspan> <tspan x="46.10" textLength="32.65" lengthAdjust="spacingAndGlyphs">(100,</tspan> <tspan x="83.99" textLength="38.10" lengthAdjust="spacingAndGlyphs">close,</tspan> <tspan x="127.28" textLength="13.34" lengthAdjust="spacingAndGlyphs">0)</tspan></text>
<text x="149.31" y="56.3" font-size="14.3" fill="#ff9800" stroke="#ff9800" stroke-width="0.3" textLength="43.42" lengthAdjust="spacingAndGlyphs">147.87</text>
<text y="366.8" font-size="14.3" fill="#131722" stroke="#131722" stroke-width="0.3"><tspan x="21.21" textLength="20.76" lengthAdjust="spacingAndGlyphs">RSI</tspan> <tspan x="46.48" textLength="25.98" lengthAdjust="spacingAndGlyphs">(14)</tspan></text>
<text x="81.35" y="366.8" font-size="14.3" fill="#9c5bcd" stroke="#9c5bcd" stroke-width="0.3" textLength="35.62" lengthAdjust="spacingAndGlyphs">50.22</text>
<text y="446.0" font-size="14.3" fill="#131722" stroke="#131722" stroke-width="0.3"><tspan x="20.87" textLength="37.98" lengthAdjust="spacingAndGlyphs">MACD</tspan> <tspan x="63.97" textLength="25.47" lengthAdjust="spacingAndGlyphs">(12,</tspan> <tspan x="93.62" textLength="20.60" lengthAdjust="spacingAndGlyphs">26,</tspan> <tspan x="119.28" textLength="38.62" lengthAdjust="spacingAndGlyphs">close,</tspan> <tspan x="162.21" textLength="13.41" lengthAdjust="spacingAndGlyphs">9)</tspan></text>
<text x="184.30" y="446.0" font-size="14.3" fill="#b2dfdb" stroke="#b2dfdb" stroke-width="0.3" textLength="27.83" lengthAdjust="spacingAndGlyphs">0.02</text>
<text x="221.70" y="446.0" font-size="14.3" fill="#2196f3" stroke="#2196f3" stroke-width="0.3" textLength="27.93" lengthAdjust="spacingAndGlyphs">0.07</text>
<text x="259.30" y="446.0" font-size="14.3" fill="#ff6d00" stroke="#ff6d00" stroke-width="0.3" textLength="27.98" lengthAdjust="spacingAndGlyphs">0.06</text>
<text x="40.44" y="521.1" font-size="16.9" fill="#131722" stroke="#131722" stroke-width="0.3" textLength="85.82" lengthAdjust="spacingAndGlyphs">TradingView</text>
<text x="122.34" y="482.0" font-size="14.3" fill="#131722" stroke="#131722" stroke-width="0.3" font-weight="bold" textLength="25.84" lengthAdjust="spacingAndGlyphs">Aug</text>
<text x="253.89" y="482.0" font-size="14.3" fill="#131722" stroke="#131722" stroke-width="0.3" textLength="8.56" lengthAdjust="spacingAndGlyphs">5</text>
<text x="367.19" y="482.0" font-size="14.3" fill="#131722" stroke="#131722" stroke-width="0.3" textLength="8.56" lengthAdjust="spacingAndGlyphs">7</text>
<text x="477.62" y="482.0" font-size="14.3" fill="#131722" stroke="#131722" stroke-width="0.3" textLength="15.52" lengthAdjust="spacingAndGlyphs">10</text>
<text x="600.96" y="482.0" font-size="14.3" fill="#131722" stroke="#131722" stroke-width="0.3" textLength="14.96" lengthAdjust="spacingAndGlyphs">13</text>
<text x="713.68" y="482.0" font-size="14.3" fill="#131722" stroke="#131722" stroke-width="0.3" textLength="16.19" lengthAdjust="spacingAndGlyphs">15</text>
<text x="837.97" y="482.0" font-size="14.3" fill="#131722" stroke="#131722" stroke-width="0.3" textLength="14.85" lengthAdjust="spacingAndGlyphs">19</text>
<text x="950.68" y="482.0" font-size="14.3" fill="#131722" stroke="#131722" stroke-width="0.3" textLength="15.25" lengthAdjust="spacingAndGlyphs">21</text>
<g fill="#131722">
<path d="M12.1 508.8 H21.8 V520.7 H16.6 V513.4 H12.1 Z"/>
<circle cx="25.3" cy="510.9" r="2.1"/>
<path d="M30.1 508.8 H36.1 L31.8 520.7 H25.9 Z"/>
</g>
</svg>
</body></html>
